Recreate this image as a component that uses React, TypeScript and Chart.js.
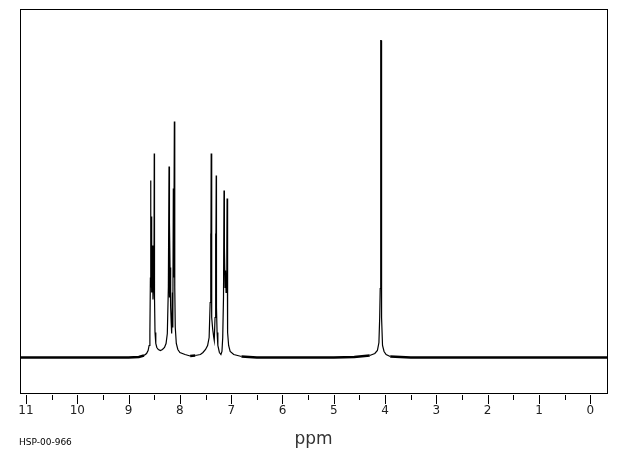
import React, { useEffect, useRef } from "react";
import { Chart, registerables } from "chart.js";

Chart.register(...registerables);

// Chemical shift (ppm) and signal intensity
const shifts: number[] = [
  11.12, 10.5, 10.0, 9.5, 9.0, 8.8, 8.7, 8.65, 8.62, 8.6, 8.585, 8.575, 8.57, 8.566, 8.563, 8.555, 8.545, 8.535,
  8.525, 8.515, 8.505, 8.5, 8.495, 8.485, 8.47, 8.45, 8.42, 8.38, 8.34, 8.3, 8.27, 8.245, 8.225, 8.212, 8.207,
  8.2, 8.192, 8.18, 8.17, 8.16, 8.145, 8.138, 8.128, 8.12, 8.108, 8.1, 8.09, 8.07, 8.04, 8.0, 7.9, 7.8, 7.7, 7.6,
  7.55, 7.5, 7.46, 7.43, 7.41, 7.4, 7.396, 7.39, 7.385, 7.375, 7.36, 7.34, 7.33, 7.315, 7.305, 7.3, 7.292, 7.287,
  7.275, 7.26, 7.23, 7.2, 7.18, 7.165, 7.15, 7.14, 7.135, 7.13, 7.12, 7.11, 7.1, 7.085, 7.08, 7.075, 7.065, 7.05,
  7.02, 6.95, 6.8, 6.5, 6.0, 5.5, 5.0, 4.6, 4.3, 4.2, 4.15, 4.12, 4.105, 4.095, 4.088, 4.082, 4.077, 4.072, 4.065,
  4.05, 4.02, 3.98, 3.9, 3.5, 3.0, 2.5, 2.0, 1.5, 1.0, 0.5, 0.0, -0.33,
];
const intensities: number[] = [
  0, 0, 0, 0, 0, 0.5, 2, 4, 7, 12, 25, 80, 177, 70, 141, 75, 65, 112,
  58, 70, 90, 204, 60, 25, 14, 10, 8, 7, 8, 10, 14, 24, 70, 191, 60,
  135, 90, 50, 35, 24, 65, 30, 169, 80, 236, 70, 30, 14, 8, 5, 3, 1.5, 2, 3,
  5, 8, 12, 20, 55, 124, 60, 204, 60, 40, 28, 20, 17, 40, 124, 60, 182, 50,
  25, 12, 5, 3, 6, 20, 60, 167, 90, 110, 70, 87, 65, 110, 159, 60, 25, 12,
  6, 3, 1, 0, 0, 0, 0, 0.5, 2, 4, 7, 15, 40, 69, 70, 317, 317, 69, 40,
  12, 6, 3, 1, 0, 0, 0, 0, 0, 0, 0, 0, 0,
];

const majorTicks: number[] = [11, 10, 9, 8, 7, 6, 5, 4, 3, 2, 1, 0];
const minorTicks: number[] = [10.5, 9.5, 8.5, 7.5, 6.5, 5.5, 4.5, 3.5, 2.5, 1.5, 0.5];
const xTitle = "ppm";
const sampleCode = "HSP-00-966";

const framePlugin = {
  id: "nmrFrame",
  afterDraw(chart: any) {
    const { ctx, chartArea } = chart;
    const xs = chart.scales.x;
    ctx.save();
    ctx.strokeStyle = "#000";
    ctx.lineWidth = 1;
    const l = Math.round(chartArea.left) + 0.5;
    const t = Math.round(chartArea.top) + 0.5;
    const r = Math.round(chartArea.right) + 0.5;
    const b = Math.round(chartArea.bottom) + 0.5;
    ctx.strokeRect(l, t, r - l, b - t);
    ctx.beginPath();
    for (const v of majorTicks) {
      const px = Math.round(xs.getPixelForValue(v)) + 0.5;
      ctx.moveTo(px, b + 1.5);
      ctx.lineTo(px, b + 10.5);
    }
    for (const v of minorTicks) {
      const px = Math.round(xs.getPixelForValue(v)) + 0.5;
      ctx.moveTo(px, b + 1.5);
      ctx.lineTo(px, b + 6.5);
    }
    ctx.stroke();
    ctx.fillStyle = "#222";
    ctx.font = '12px "DejaVu Sans"';
    ctx.textAlign = "center";
    ctx.textBaseline = "middle";
    for (const v of majorTicks) {
      ctx.fillText(String(v), xs.getPixelForValue(v), b + 17);
    }
    ctx.font = '17px "DejaVu Sans"';
    ctx.fillStyle = "#333";
    ctx.fillText(xTitle, (chartArea.left + chartArea.right) / 2, 440);
    ctx.font = '9px "DejaVu Sans"';
    ctx.fillStyle = "#000";
    ctx.textAlign = "left";
    ctx.fillText(sampleCode, 19, 443);
    ctx.restore();
  },
};

export default function App() {
  const ref = useRef<HTMLCanvasElement | null>(null);
  useEffect(() => {
    document.body.style.margin = "0";
    const canvas = ref.current;
    if (!canvas) return;
    const data = shifts.map((x, i) => ({ x, y: intensities[i] }));
    const chart = new Chart(canvas, {
      type: "line",
      data: {
        datasets: [
          {
            data,
            borderColor: "#000",
            borderWidth: 1,
            pointRadius: 0,
            tension: 0,
            fill: false,
            segment: {
              borderWidth: (c: any) =>
                Math.abs(c.p0.parsed.y) < 3 && Math.abs(c.p1.parsed.y) < 3 ? 2.5 : 1.2,
            },
          } as any,
        ],
      },
      options: {
        animation: false,
        responsive: false,
        maintainAspectRatio: false,
        layout: { padding: { left: 20, top: 9, right: 13, bottom: 62 } },
        plugins: { legend: { display: false }, tooltip: { enabled: false } },
        scales: {
          x: { type: "linear", reverse: true, min: -0.326, max: 11.117, display: false },
          y: { type: "linear", min: -35.5, max: 348.5, display: false },
        },
      },
      plugins: [framePlugin],
    });
    return () => chart.destroy();
  }, []);
  return <canvas ref={ref} width={620} height={455} style={{ display: "block" }} />;
}
